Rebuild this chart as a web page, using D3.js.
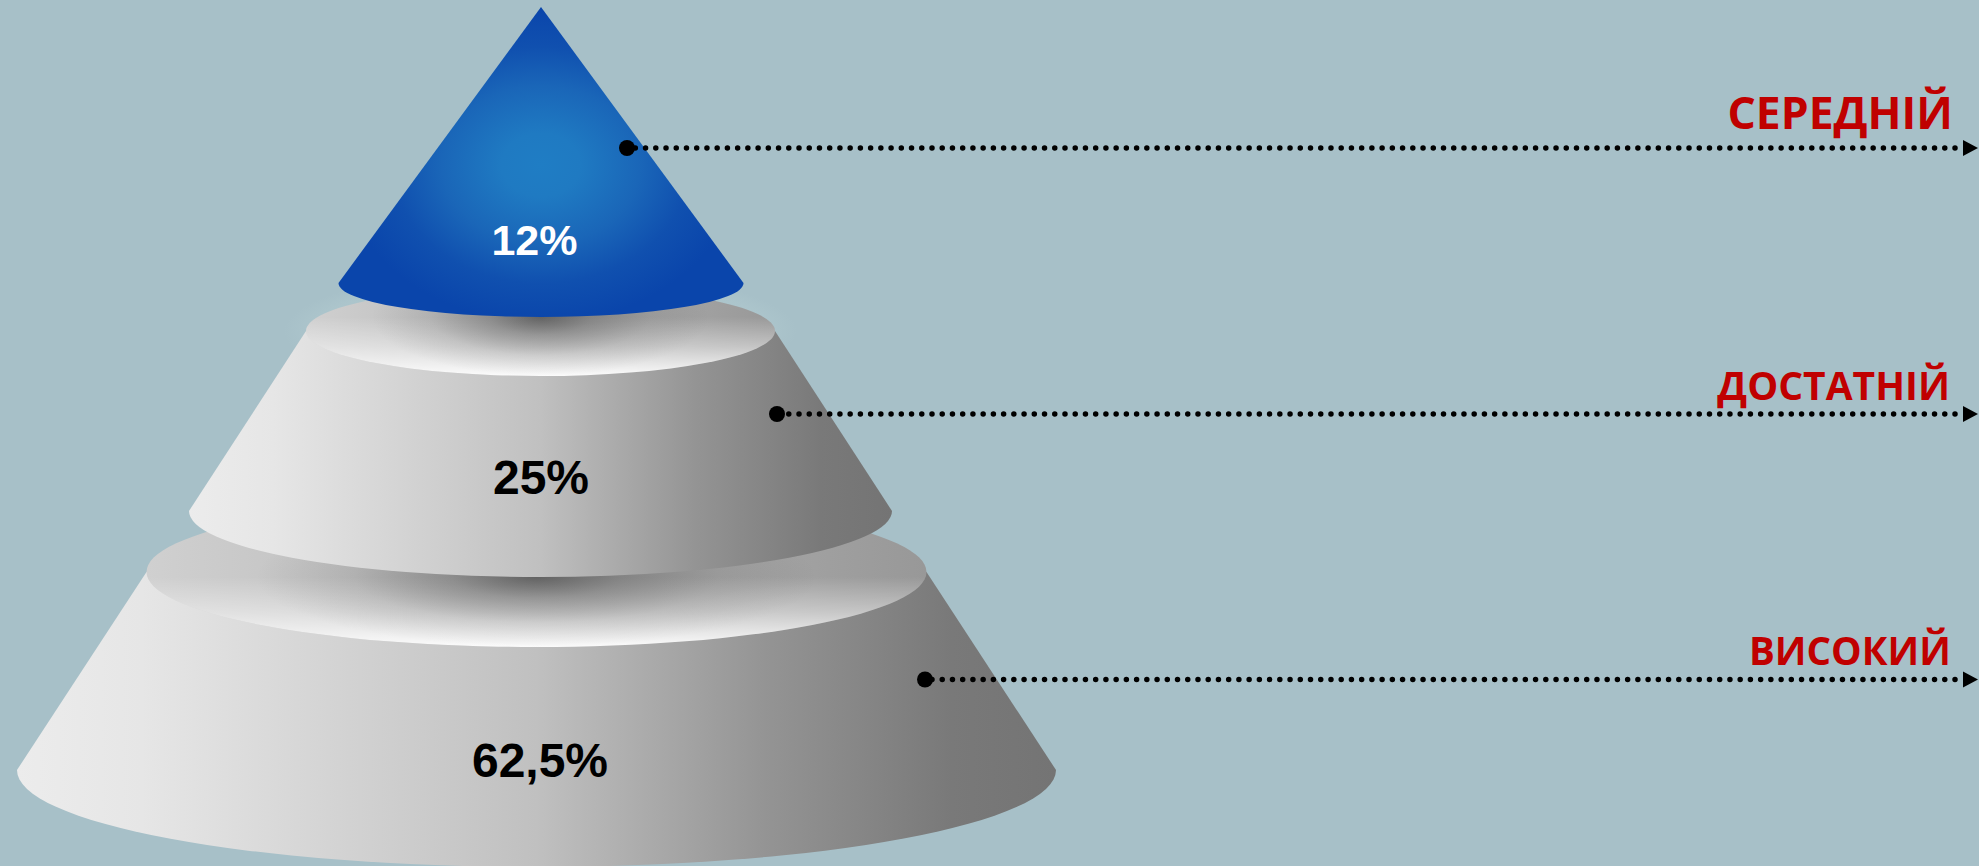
<!DOCTYPE html>
<html><head><meta charset="utf-8">
<script src="https://cdn.jsdelivr.net/npm/d3@7"></script>
<style>html,body{margin:0;padding:0;background:#a7c0c8;overflow:hidden}svg{display:block}</style>
</head><body><div id="chart"></div>
<script>
// DATA
const levels = ["ВИСОКИЙ", "ДОСТАТНІЙ", "СЕРЕДНІЙ"];
const percentLabels = ["62,5%", "25%", "12%"];

// LAYOUT (pixel geometry of each tier, keyed through ordinal scales)
const W = 1979, H = 866;
const cx      = d3.scaleOrdinal().domain(levels).range([536.5, 540.5, 541]);
const baseY   = d3.scaleOrdinal().domain(levels).range([770, 511, 283]);
const baseRx  = d3.scaleOrdinal().domain(levels).range([519.5, 351.5, 202.5]);
const baseRy  = d3.scaleOrdinal().domain(levels).range([97, 66, 34]);
const topY    = d3.scaleOrdinal().domain(levels).range([572, 331, 7]);
const topRx   = d3.scaleOrdinal().domain(levels).range([390, 234.5, 0]);
const topRy   = d3.scaleOrdinal().domain(levels).range([75, 45, 0]);
const focalY  = d3.scaleOrdinal().domain(levels).range([577, 317, 0]);
const calloutY= d3.scaleOrdinal().domain(levels).range([679.5, 414, 148]);
const calloutX= d3.scaleOrdinal().domain(levels).range([925, 777, 627]);
const labelBase=d3.scaleOrdinal().domain(levels).range([665, 400, 129]);
const labelRight=d3.scaleOrdinal().domain(levels).range([1951, 1950, 1953]);
const labelSize= d3.scaleOrdinal().domain(levels).range([38.5, 39, 44.5]);
const pctX    = d3.scaleOrdinal().domain(levels).range([540, 541, 534.5]);
const pctBase = d3.scaleOrdinal().domain(levels).range([777, 494, 255]);
const pctSize = d3.scaleOrdinal().domain(levels).range([48, 48, 43]);
const pctFill = d3.scaleOrdinal().domain(levels).range(["#000", "#000", "#fff"]);

const svg = d3.select("#chart").append("svg").attr("width", W).attr("height", H).attr("viewBox", `0 0 ${W} ${H}`);
svg.append("rect").attr("width", W).attr("height", H).attr("fill", "#a7c0c8");
const defs = svg.append("defs");

function grad(type, id, attrs, stops) {
  const g = defs.append(type).attr("id", id);
  Object.entries(attrs).forEach(([k, v]) => g.attr(k, v));
  stops.forEach(s => g.append("stop").attr("offset", s[0]).attr("stop-color", s[1]).attr("stop-opacity", s[2] === undefined ? 1 : s[2]));
}
grad("linearGradient", "side", {x1: 0, x2: 1, y1: 0, y2: 0},
  [[0, "#ececec"], [0.12, "#e6e6e6"], [0.5, "#c0c0c0"], [0.72, "#949494"], [0.9, "#797979"], [1, "#747474"]]);
grad("linearGradient", "capBase", {x1: 0, x2: 1, y1: 0, y2: 0},
  [[0, "#d0d0d0"], [0.5, "#b4b4b4"], [1, "#989898"]]);
grad("radialGradient", "cone", {gradientUnits: "userSpaceOnUse", cx: 0, cy: 0, r: 1,
    gradientTransform: "translate(541 165) scale(198 158)"},
  [[0, "#1f7dc4"], [0.2, "#1f7ac2"], [0.5, "#1a66b8"], [0.75, "#1050af"], [1, "#0a45ab"]]);
grad("radialGradient", "halo", {}, [[0, "#b3ccd1", 0.5], [0.88, "#b3ccd1", 0.4], [1, "#b3ccd1", 0]]);

levels.forEach((d, i) => {
  if (!topRx(d)) return;
  const f = focalY(d), bottom = topY(d) + topRy(d), span = bottom - f;
  grad("radialGradient", `capDark${i}`, {gradientUnits: "userSpaceOnUse", cx: 0, cy: 0, r: 1,
      gradientTransform: `translate(${cx(d)} ${f}) scale(${topRx(d) * 0.72} ${span * 1.0})`},
    [[0, "#222", 0.56], [0.3, "#222", 0.3], [0.65, "#222", 0.1], [1, "#222", 0]]);
  grad("linearGradient", `capLight${i}`, {gradientUnits: "userSpaceOnUse", x1: 0, x2: 0, y1: f, y2: bottom},
    [[0, "#fff", 0], [0.5, "#fff", 0.42], [1, "#fff", 0.95]]);
});

function tierPath(d) {
  const x = cx(d), rb = baseRx(d), ry = baseRy(d), yb = baseY(d), rt = topRx(d), yt = topY(d);
  const p = d3.path();
  p.moveTo(x - rt, yt);
  p.lineTo(x - rb, yb);
  // lower half of the base ellipse
  return p.toString() + `A${rb},${ry} 0 0 0 ${x + rb},${yb}L${x + rt},${yt}Z`;
}

// draw from the bottom tier to the top
const tiers = svg.selectAll("g.tier").data(levels).join("g").attr("class", "tier");

tiers.filter(d => d === "ДОСТАТНІЙ").append("ellipse")
  .attr("cx", cx).attr("cy", topY).attr("rx", d => topRx(d) + 22).attr("ry", d => topRy(d) + 18)
  .attr("fill", "url(#halo)");

tiers.append("path").attr("d", tierPath)
  .attr("fill", d => topRx(d) > 0 ? "url(#side)" : "url(#cone)");

const caps = tiers.filter(d => topRx(d) > 0);
const capEllipse = () => caps.append("ellipse").attr("cx", cx).attr("cy", topY).attr("rx", topRx).attr("ry", topRy);
capEllipse().attr("fill", "url(#capBase)");
capEllipse().attr("fill", (d, i) => `url(#capLight${i})`);
capEllipse().attr("fill", (d, i) => `url(#capDark${i})`);

tiers.append("text").text((d, i) => percentLabels[i])
  .attr("x", pctX).attr("y", pctBase).attr("text-anchor", "middle")
  .attr("font-family", "'Liberation Sans', Arial, sans-serif").attr("font-weight", 700)
  .attr("font-size", pctSize).attr("fill", pctFill);

// callouts
const arrowTip = W - 1, arrowBase = 1963, lastDot = 1955;
const call = svg.selectAll("g.call").data(levels).join("g").attr("class", "call");
call.append("line").attr("x1", lastDot).attr("x2", calloutX)
  .attr("y1", calloutY).attr("y2", calloutY)
  .attr("stroke", "#000").attr("stroke-width", 5.5).attr("stroke-linecap", "round").attr("stroke-dasharray", "0 10.23");
call.append("circle").attr("cx", calloutX).attr("cy", calloutY).attr("r", 8).attr("fill", "#000");
call.append("path").attr("d", d => {
  const y = calloutY(d), p = d3.path();
  p.moveTo(arrowBase, y - 8); p.lineTo(arrowTip, y); p.lineTo(arrowBase, y + 8); p.closePath();
  return p.toString();
}).attr("fill", "#000");
call.append("text").text(d => d)
  .attr("x", labelRight).attr("y", labelBase).attr("text-anchor", "end")
  .attr("font-family", "'Open Sans', sans-serif").attr("font-weight", 700)
  .attr("font-size", labelSize).attr("fill", "#c00000");
</script></body></html>
